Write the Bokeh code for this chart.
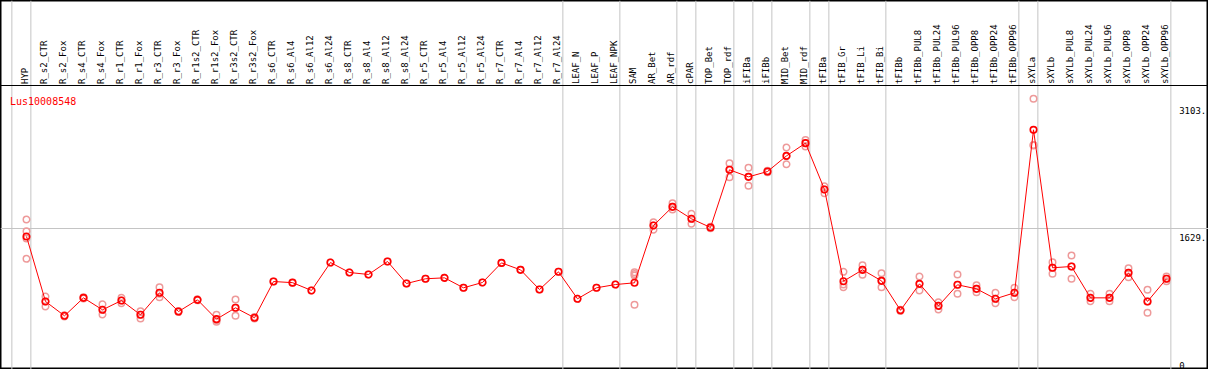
import math
from bokeh.plotting import figure
from bokeh.models import Range1d, Span
from bokeh.core.properties import value
from bokeh.embed import file_html
from bokeh.resources import INLINE

# ---------------- data ----------------
gene = "Lus10008548"

samples = [
    "HYP", "R_s2_CTR", "R_s2_Fox", "R_s4_CTR", "R_s4_Fox", "R_r1_CTR", "R_r1_Fox",
    "R_r3_CTR", "R_r3_Fox", "R_r1s2_CTR", "R_r1s2_Fox", "R_r3s2_CTR", "R_r3s2_Fox",
    "R_s6_CTR", "R_s6_Al4", "R_s6_Al12", "R_s6_Al24", "R_s8_CTR", "R_s8_Al4",
    "R_s8_Al12", "R_s8_Al24", "R_r5_CTR", "R_r5_Al4", "R_r5_Al12", "R_r5_Al24",
    "R_r7_CTR", "R_r7_Al4", "R_r7_Al12", "R_r7_Al24", "LEAF_N", "LEAF_P", "LEAF_NPK",
    "SAM", "AR_Bet", "AR_rdf", "cPAR", "TOP_Bet", "TOP_rdf", "iFIBa", "iFIBb",
    "MID_Bet", "MID_rdf", "tFIBa", "tFIB_Gr", "tFIB_Li", "tFIB_Bi", "tFIBb",
    "tFIBb_PUL8", "tFIBb_PUL24", "tFIBb_PUL96", "tFIBb_OPP8", "tFIBb_OPP24",
    "tFIBb_OPP96", "sXYLa", "sXYLb", "sXYLb_PUL8", "sXYLb_PUL24", "sXYLb_PUL96",
    "sXYLb_OPP8", "sXYLb_OPP24", "sXYLb_OPP96",
]

means = [
    1536, 780, 613, 822, 683, 791, 625, 881, 663, 799, 574, 706, 590,
    1012, 999, 908, 1233, 1117, 1094, 1245, 989, 1044, 1055, 939, 1001,
    1229, 1148, 919, 1125, 811, 939, 977,
    997, 1664, 1881, 1742, 1641, 2312, 2230, 2292, 2474, 2622,
    2083, 1016, 1148, 1020, 677, 985, 729, 974, 927, 811, 881,
    2777, 1172, 1187, 822, 822, 1113, 780, 1044,
]

replicates = [
    [1734, 1598, 1513, 1276], [838, 780, 721], [620, 606], [830, 815],
    [748, 683, 628], [822, 791, 760], [667, 625, 582], [946, 870, 830],
    [670, 656], [805, 793], [624, 560, 543], [803, 706, 613], [598, 582],
    [1012], [999], [908], [1233], [1117], [1094], [1245], [989], [1044],
    [1055], [939], [1001], [1229], [1148], [919], [1125], [811], [939], [977],
    [1121, 1100, 1082, 741], [1703, 1664, 1614], [1924, 1881, 1850],
    [1800, 1742, 1684], [1650, 1632], [2389, 2312, 2226], [2335, 2230, 2126],
    [2300, 2284], [2572, 2474, 2377], [2660, 2622, 2583], [2121, 2083, 2040],
    [1125, 977, 946], [1202, 1148, 1090], [1109, 1020, 946], [685, 670],
    [1070, 985, 908], [771, 729, 686], [1094, 974, 869], [970, 927, 888],
    [881, 811, 760], [939, 881, 830], [3138, 2600, 2595], [1237, 1172, 1102],
    [1315, 1187, 1044], [869, 822, 783], [869, 822, 783], [1167, 1113, 1062],
    [916, 780, 648], [1070, 1044, 1016],
]

# index of last sample in each group (-1 = leading edge)
group_ends = [-1, 0, 28, 31, 34, 35, 37, 38, 39, 41, 42, 45, 52, 53, 60]

tick_values = [3103, 1629, 0]
tick_labels = ["3103.", "1629.", "0"]
grid_value = 1629

# ---------------- layout ----------------
W, H = 1208, 369
COL = 19.0          # px per sample column
X0 = 26.0           # px from left edge to first sample
K = 140.0 / 1629.0  # px per expression unit
ZERO = 368.0        # px from top to value 0

def vx(px):
    return (px - X0) / COL

def vy(py):
    return (ZERO - py) / K

FONT = value("DejaVu Sans Mono")
RED = "#ff0000"
PINK = "#ee9a9a"
GRAY = "#c4c4c4"

p = figure(width=W, height=H, output_backend="svg", toolbar_location=None,
           x_range=Range1d(vx(0), vx(W)), y_range=Range1d(vy(H), vy(0)),
           x_axis_location=None, y_axis_location=None, min_border=0,
           background_fill_color="white", border_fill_color="white")
p.grid.visible = False
p.outline_line_color = "black"
p.outline_line_width = 2

# group separators
for g in group_ends:
    p.add_layout(Span(location=g + 0.23, dimension="height", line_color=GRAY,
                      line_width=1, level="underlay"))
p.add_layout(Span(location=grid_value, dimension="width", line_color=GRAY,
                  line_width=1, level="underlay"))
# header separator
p.add_layout(Span(location=vy(85), dimension="width", line_color="black", line_width=1))

idx = list(range(len(samples)))

# sample labels (vertical)
p.text(x=idx, y=[vy(83.5)] * len(idx), text=samples, angle=math.pi / 2,
       text_align="left", text_baseline="middle", x_offset=-2,
       text_font=FONT, text_font_size="9px", text_color="black")

# replicates
rx, ry = [], []
for i, reps in enumerate(replicates):
    for r in reps:
        rx.append(i)
        ry.append(r)
p.scatter(rx, ry, marker="circle", size=6.5, fill_color=None,
          line_color=PINK, line_width=1.5)

# mean line + markers
p.line(idx, means, line_color=RED, line_width=1)
p.scatter(idx, means, marker="circle", size=6.5, fill_color=None,
          line_color=RED, line_width=1.6)

# gene title
p.text(x=[vx(9.5)], y=[vy(101)], text=[gene], text_align="left",
       text_baseline="alphabetic", text_font=FONT, text_font_size="10px",
       text_color=RED)

# value labels on the right
ly = []
for t in tick_values:
    py = min(ZERO - t * K + 9.0, 364.5)
    ly.append(vy(py))
p.text(x=[vx(1178.7)] * len(tick_values), y=ly, text=tick_labels,
       text_align="left", text_baseline="alphabetic", text_font=FONT,
       text_font_size="9px", text_color="black")

open("out.html", "w").write(file_html(p, INLINE))
